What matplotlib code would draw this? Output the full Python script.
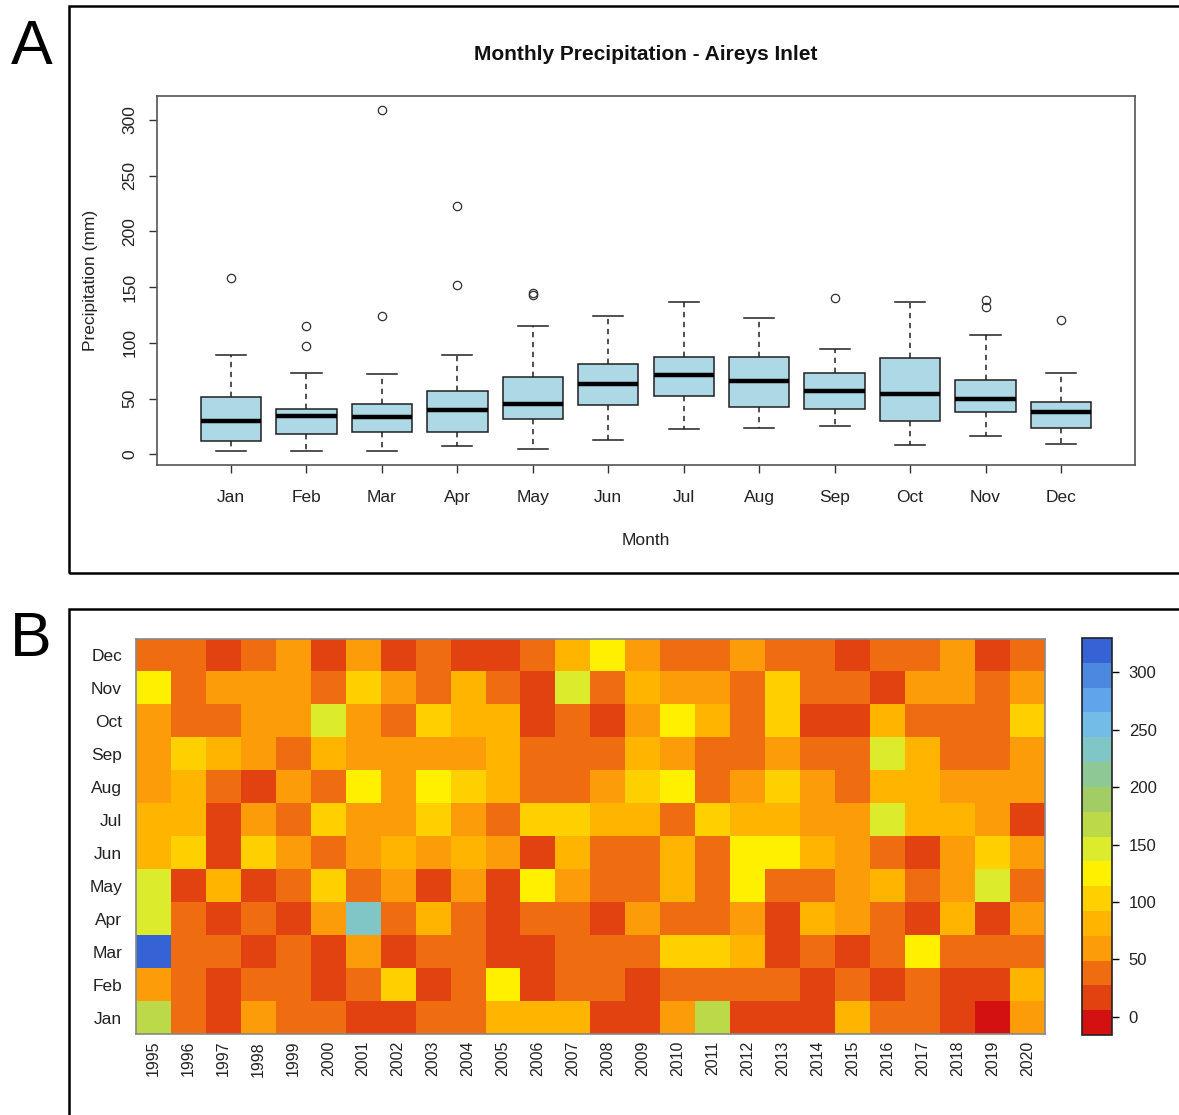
import numpy as np
import matplotlib
matplotlib.use("Agg")
import matplotlib.pyplot as plt
from matplotlib.colors import ListedColormap, BoundaryNorm
from matplotlib.patches import Rectangle
from matplotlib.ticker import NullLocator

plt.rcParams['font.family'] = ['Liberation Sans', 'DejaVu Sans']

months = ["Jan", "Feb", "Mar", "Apr", "May", "Jun",
          "Jul", "Aug", "Sep", "Oct", "Nov", "Dec"]
years = list(range(1995, 2021))

# boxplot stats (mm)
box_med = [30, 34, 33, 40, 45, 63, 71, 66, 57, 54, 50, 38]
box_q1 = [12, 18, 20, 20, 32, 44, 52, 42, 41, 30, 38, 24]
box_q3 = [51, 41, 45, 57, 69, 81, 87, 87, 73, 86, 67, 47]
box_lo = [3, 3, 3, 7, 5, 12.5, 23, 24, 25, 8, 16, 9]
box_hi = [89, 73, 72, 89, 115, 124, 137, 122, 94, 137, 107, 73]
box_fliers = [[158], [115, 97], [309, 124], [223, 152], [143, 145], [],
              [], [], [140], [], [132, 138], [120]]

# monthly totals per year, 1995..2020
jan = [158, 42, 12, 62, 36, 40, 18, 15, 33, 44, 84, 78, 80, 10, 20, 66, 165, 14, 22, 9, 82, 35, 45, 16, 3, 58]
feb = [64, 40, 18, 36, 44, 20, 41, 97, 14, 38, 115, 22, 37, 43, 19, 34, 39, 46, 35, 12, 42, 21, 33, 9, 16, 76]
mar = [309, 38, 33, 21, 42, 17, 58, 20, 40, 45, 24, 14, 36, 41, 39, 96, 95, 76, 11, 32, 25, 38, 124, 30, 44, 37]
apr = [152, 40, 19, 35, 13, 62, 223, 33, 79, 44, 20, 37, 41, 18, 58, 32, 45, 65, 8, 74, 60, 38, 23, 78, 14, 61]
may = [145, 20, 83, 16, 44, 100, 39, 63, 17, 56, 22, 115, 61, 40, 34, 82, 46, 118, 35, 31, 57, 88, 47, 68, 143, 36]
jun = [85, 104, 13, 102, 67, 45, 63, 80, 58, 84, 64, 25, 78, 42, 38, 86, 44, 124, 120, 81, 66, 40, 24, 63, 106, 59]
jul = [88, 82, 23, 66, 47, 101, 68, 62, 97, 70, 48, 99, 104, 83, 86, 44, 98, 79, 87, 69, 67, 137, 84, 80, 64, 24]
aug = [69, 78, 42, 24, 61, 44, 122, 66, 118, 108, 87, 41, 46, 65, 110, 121, 39, 62, 106, 68, 43, 84, 86, 67, 59, 69]
sep = [63, 94, 85, 66, 42, 80, 64, 67, 62, 68, 76, 45, 41, 46, 83, 60, 44, 40, 57, 43, 38, 140, 79, 30, 42, 70]
oct_ = [66, 44, 36, 65, 63, 137, 61, 43, 104, 86, 80, 22, 40, 16, 62, 125, 84, 35, 96, 12, 8, 88, 39, 33, 37, 100]
nov = [132, 45, 64, 67, 60, 40, 96, 62, 42, 76, 46, 16, 138, 38, 82, 66, 59, 47, 101, 41, 43, 20, 64, 61, 39, 68]
dec = [42, 40, 20, 44, 58, 12, 63, 18, 39, 24, 22, 43, 79, 120, 60, 41, 38, 56, 36, 45, 15, 40, 37, 66, 19, 46]

band_colors = ["#d41111", "#e2420f", "#ef6d10", "#fb9c08", "#ffb400", "#ffd000",
               "#fff000", "#dcec2c", "#bcda48", "#a2cc64", "#8ec894", "#80c6c6",
               "#72bce8", "#60a4ec", "#4c88e0", "#3562d4"]
band_edges = [-16, 5.6, 27.2, 48.9, 70.5, 92.1, 113.7, 135.3, 157, 178.6,
              200.2, 221.9, 243.5, 265.1, 286.8, 308.4, 330]

W, H = 1179, 1115
fig = plt.figure(figsize=(W / 100, H / 100), dpi=100)

def fx(px):
    return px / W

def fy(py):
    return 1 - py / H

# panel frames
fig.add_artist(Rectangle((fx(69), fy(573)), 2, (573 - 6) / H, transform=fig.transFigure,
                         fill=False, lw=1.8, ec='black', clip_on=False))
fig.add_artist(Rectangle((fx(69), -1), 2, 1 + fy(609), transform=fig.transFigure,
                         fill=False, lw=1.8, ec='black', clip_on=False))
fig.text(fx(32), fy(47), "A", fontsize=45, ha='center', va='center')
fig.text(fx(31), fy(640), "B", fontsize=45, ha='center', va='center')

txt = '#222222'

# ---- panel A: boxplot
ax = fig.add_axes([fx(157), fy(465), (1135 - 157) / W, (465 - 96) / H])
stats = []
for i in range(12):
    stats.append(dict(med=box_med[i], q1=box_q1[i], q3=box_q3[i],
                      whislo=box_lo[i], whishi=box_hi[i], fliers=box_fliers[i]))
ax.bxp(stats, positions=range(1, 13), widths=0.8, capwidths=0.4, patch_artist=True,
       boxprops=dict(facecolor='#add8e6', edgecolor='#202020', linewidth=1.1),
       medianprops=dict(color='black', linewidth=3.2),
       whiskerprops=dict(color='#202020', linestyle=(0, (3.5, 3)), linewidth=1.1),
       capprops=dict(color='#202020', linewidth=1.1),
       flierprops=dict(marker='o', markerfacecolor='none', markeredgecolor='#303030',
                       markersize=6, markeredgewidth=0.9))
ax.set_xlim(0.02, 12.98)
ax.set_ylim(-9.6, 321.3)
ax.set_xticks(range(1, 13))
ax.set_xticklabels(months)
ax.set_yticks(range(0, 301, 50))
ax.tick_params(axis='both', length=6, width=1, color='#333333', labelsize=12.5,
               labelcolor=txt)
ax.tick_params(axis='x', pad=12)
ax.tick_params(axis='y', labelrotation=90, pad=8)
for lab in ax.get_yticklabels():
    lab.set_va('center')
for s in ax.spines.values():
    s.set_color('#555555')
    s.set_linewidth(1.2)
ax.set_xlabel("Month", fontsize=12.5, color=txt, labelpad=20)
ax.set_ylabel("Precipitation (mm)", fontsize=12.5, color=txt, labelpad=18)
fig.text(fx(646), fy(54), "Monthly Precipitation - Aireys Inlet", fontsize=15,
         fontweight='bold', ha='center', va='center', color='#111111')

# ---- panel B: heatmap
grid = np.array([jan, feb, mar, apr, may, jun, jul, aug, sep, oct_, nov, dec])
cmap = ListedColormap(band_colors)
norm = BoundaryNorm(band_edges, cmap.N)
ax2 = fig.add_axes([fx(136), fy(1034), (1045 - 136) / W, (1034 - 639) / H])
im = ax2.imshow(grid, cmap=cmap, norm=norm, aspect='auto', origin='lower',
                interpolation='nearest')
ax2.set_xticks(range(len(years)))
ax2.set_xticklabels([str(y) for y in years], rotation=90)
ax2.set_yticks(range(12))
ax2.set_yticklabels(months)
ax2.tick_params(axis='both', length=0, labelcolor=txt)
ax2.tick_params(axis='x', labelsize=11.5, pad=5)
ax2.tick_params(axis='y', labelsize=12.5, pad=10)
for s in ax2.spines.values():
    s.set_color('#888888')
    s.set_linewidth(1.2)

cax = fig.add_axes([fx(1082), fy(1035), 30 / W, (1035 - 638) / H])
cb = fig.colorbar(im, cax=cax, ticks=range(0, 301, 50))
cax.yaxis.set_minor_locator(NullLocator())
cb.outline.set_linewidth(1.2)
cb.outline.set_edgecolor('#222222')
cax.tick_params(length=5, width=1, labelsize=12, labelcolor=txt, pad=7)

fig.savefig("out.png", dpi=100)
